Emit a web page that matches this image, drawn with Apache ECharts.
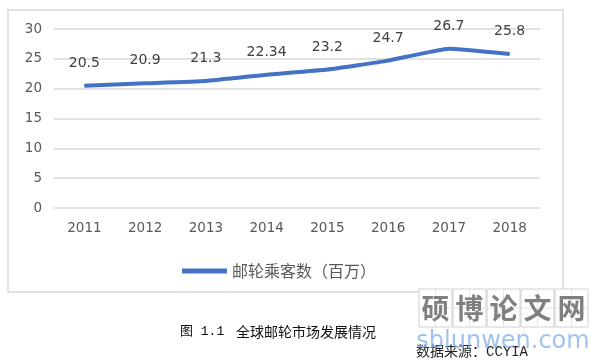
<!DOCTYPE html>
<html>
<head>
<meta charset="utf-8">
<style>html,body{margin:0;padding:0;background:#fff;}#c{width:607px;height:362px;}</style>
<script src="https://cdn.jsdelivr.net/npm/echarts@6/dist/echarts.min.js"></script>
</head>
<body>
<div id="c"></div>
<script>
var years = ['2011','2012','2013','2014','2015','2016','2017','2018'];
var passengers = [20.5, 20.9, 21.3, 22.34, 23.2, 24.7, 26.7, 25.8];
var seriesName = '邮轮乘客数（百万）';
var captionNo = '图 1.1';
var captionText = '全球邮轮市场发展情况';
var source = '数据来源：CCYIA';
var wmChars = ['硕','博','论','文','网'];

var chart = echarts.init(document.getElementById('c'), null, {renderer:'canvas'});
var graphics = [
  {type:'rect', shape:{x:8, y:10, width:555, height:282}, style:{fill:'none', stroke:'#d9d9d9', lineWidth:1.5}, z:-1},
  {type:'text', x:180, y:332, style:{text:captionNo, font:'13px "Liberation Mono", "Noto Sans CJK SC"', fill:'#111', verticalAlign:'middle'}},
  {type:'text', x:236, y:332, style:{text:captionText, font:'14px "Noto Sans CJK SC"', fill:'#111', verticalAlign:'middle'}}
];
for (var i = 0; i < wmChars.length; i++) {
  var x0 = 419 + i*34;
  graphics.push({type:'rect', shape:{x:x0, y:289, width:33, height:38}, style:{fill:'#fff', stroke:'#d0d0d0', lineWidth:1}});
  graphics.push({type:'line', shape:{x1:x0+16.5, y1:289, x2:x0+16.5, y2:327}, style:{stroke:'#e6e6e6', lineWidth:1}});
  graphics.push({type:'line', shape:{x1:x0, y1:308, x2:x0+33, y2:308}, style:{stroke:'#e6e6e6', lineWidth:1}});
  graphics.push({type:'text', x:x0+16.5, y:308, style:{text:wmChars[i], font:'bold 28px "Noto Sans CJK SC"', fill:'#808080', align:'center', verticalAlign:'middle'}});
}
graphics.push({type:'text', x:416, y:352, style:{text:source, font:'14px "Liberation Mono", "Noto Sans CJK SC"', fill:'#222', verticalAlign:'middle'}});
graphics.push({type:'text', x:503, y:342, style:{text:'sblunwen.com', font:'24px "DejaVu Sans"', fill:'rgba(120,168,230,0.7)', align:'center', verticalAlign:'middle'}});

chart.setOption({
  animation:false,
  backgroundColor:'#fff',
  grid:{left:54, right:67, top:29, bottom:154, containLabel:false},
  legend:{
    data:[{name:seriesName, icon:'rect'}], left:177, top:258, itemWidth:45, itemHeight:5, itemGap:6,
    textStyle:{fontFamily:'"Noto Sans CJK SC"', fontSize:16, color:'#595959'}
  },
  xAxis:{
    type:'category', data:years, boundaryGap:true,
    axisLine:{show:false}, axisTick:{show:false},
    axisLabel:{margin:13, fontFamily:'"DejaVu Sans"', fontSize:13.5, color:'#595959'}
  },
  yAxis:{
    type:'value', min:0, max:30, interval:5,
    axisLine:{show:false}, axisTick:{show:false},
    splitLine:{lineStyle:{color:'#d9d9d9', width:1.5}},
    axisLabel:{margin:12, fontFamily:'"DejaVu Sans"', fontSize:13.5, color:'#595959'}
  },
  series:[{
    name:seriesName, type:'line', data:passengers, smooth:0.12,
    symbol:'circle', symbolSize:1, showSymbol:true,
    lineStyle:{color:'#4472c4', width:4}, itemStyle:{color:'#4472c4'},
    label:{show:true, position:'top', distance:15, fontFamily:'"DejaVu Sans"', fontSize:14, color:'#404040'}
  }],
  graphic:graphics
});
</script>
</body>
</html>
